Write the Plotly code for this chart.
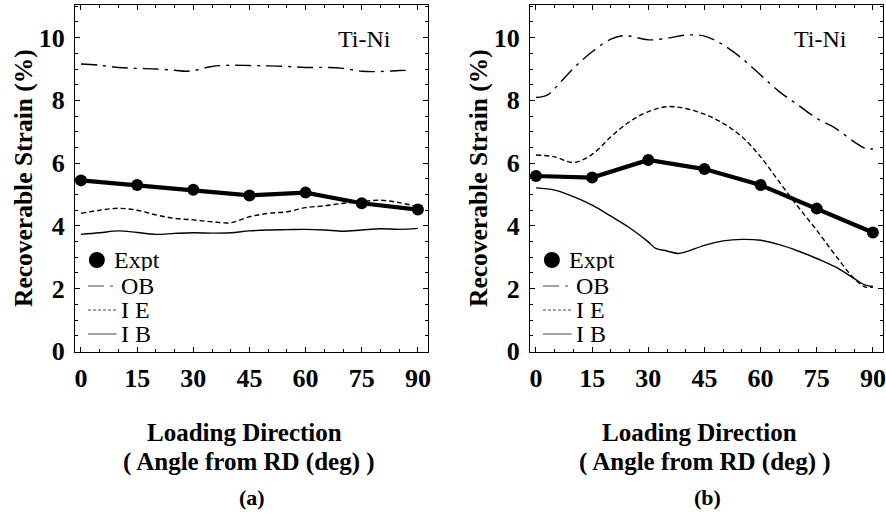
import plotly.graph_objects as go

# ---------------- data ----------------
angles_expt = [0, 15, 30, 45, 60, 75, 90]

# panel (a)
a_expt = [5.45, 5.30, 5.15, 4.97, 5.06, 4.72, 4.52]
a_ob_x = [0, 5, 10, 15, 20, 25, 28, 30, 35, 40, 45, 50, 55, 60, 65, 70, 75, 80, 85, 88]
a_ob_y = [9.16, 9.12, 9.05, 9.02, 9.00, 8.96, 8.93, 8.95, 9.08, 9.12, 9.11, 9.10, 9.08, 9.05, 9.05, 9.02, 8.93, 8.92, 8.95, 8.96]
a_ie_x = [0, 5, 10, 15, 20, 25, 30, 35, 40, 45, 50, 55, 60, 65, 70, 75, 80, 85, 90]
a_ie_y = [4.40, 4.50, 4.56, 4.50, 4.35, 4.24, 4.19, 4.13, 4.10, 4.29, 4.40, 4.45, 4.58, 4.64, 4.72, 4.77, 4.82, 4.74, 4.61]
a_ib_x = [0, 5, 10, 15, 20, 25, 30, 35, 40, 45, 50, 55, 60, 65, 70, 75, 80, 85, 90]
a_ib_y = [3.73, 3.78, 3.84, 3.79, 3.73, 3.76, 3.78, 3.77, 3.78, 3.84, 3.87, 3.88, 3.89, 3.87, 3.83, 3.87, 3.91, 3.89, 3.92]

# panel (b)
b_expt = [5.59, 5.54, 6.10, 5.81, 5.30, 4.55, 3.79]
b_ob_x = [0, 3, 5, 10, 15, 20, 23, 25, 30, 35, 40, 45, 50, 55, 60, 65, 70, 75, 80, 85, 88, 90]
b_ob_y = [8.09, 8.17, 8.38, 9.02, 9.55, 9.95, 10.06, 10.05, 9.93, 9.98, 10.08, 10.05, 9.77, 9.34, 8.81, 8.28, 7.85, 7.43, 7.11, 6.68, 6.47, 6.45]
b_ie_x = [0, 5, 10, 15, 20, 25, 30, 35, 40, 45, 50, 55, 60, 65, 70, 75, 80, 85, 88, 90]
b_ie_y = [6.26, 6.20, 6.02, 6.28, 6.84, 7.32, 7.64, 7.80, 7.74, 7.56, 7.27, 6.84, 6.20, 5.40, 4.61, 3.86, 3.06, 2.32, 2.05, 2.05]
b_ib_x = [0, 5, 10, 15, 20, 25, 30, 32, 35, 38, 40, 45, 50, 55, 60, 65, 70, 75, 80, 85, 88, 90]
b_ib_y = [5.21, 5.14, 4.93, 4.66, 4.31, 3.94, 3.49, 3.28, 3.20, 3.12, 3.17, 3.38, 3.52, 3.57, 3.54, 3.40, 3.20, 2.96, 2.69, 2.32, 2.11, 2.07]

x_ticks = [0, 15, 30, 45, 60, 75, 90]
y_ticks = [0, 2, 4, 6, 8, 10]
legend_labels = ["Expt", "OB", "I E", "I B"]
panel_labels = ["(a)", "(b)"]
alloy = "Ti-Ni"

# ---------------- style ----------------
W, H = 886, 519
SERIF = "Liberation Serif, Times New Roman, serif"
OB_DASH = "16px,6px,3px,6px"
IE_DASH = "5px,3px"

panels = [
    dict(expt=a_expt, ob=(a_ob_x, a_ob_y), ie=(a_ie_x, a_ie_y), ib=(a_ib_x, a_ib_y), xa="x", ya="y"),
    dict(expt=b_expt, ob=(b_ob_x, b_ob_y), ie=(b_ie_x, b_ie_y), ib=(b_ib_x, b_ib_y), xa="x2", ya="y2"),
]

fig = go.Figure()
for p in panels:
    fig.add_trace(go.Scatter(x=p["ob"][0], y=p["ob"][1], mode="lines", xaxis=p["xa"], yaxis=p["ya"],
                             line=dict(color="black", width=1.4, dash=OB_DASH, shape="spline", smoothing=1.0),
                             name="OB", showlegend=False))
    fig.add_trace(go.Scatter(x=p["ie"][0], y=p["ie"][1], mode="lines", xaxis=p["xa"], yaxis=p["ya"],
                             line=dict(color="black", width=1.4, dash=IE_DASH, shape="spline", smoothing=1.0),
                             name="I E", showlegend=False))
    fig.add_trace(go.Scatter(x=p["ib"][0], y=p["ib"][1], mode="lines", xaxis=p["xa"], yaxis=p["ya"],
                             line=dict(color="black", width=1.4, shape="spline", smoothing=1.0),
                             name="I B", showlegend=False))
    fig.add_trace(go.Scatter(x=angles_expt, y=p["expt"], mode="lines+markers", xaxis=p["xa"], yaxis=p["ya"],
                             line=dict(color="black", width=4.2),
                             marker=dict(color="black", size=12),
                             name="Expt", showlegend=False))

# domains (figure fractions, zero margins)
x_doms = [[75 / W, 428 / W], [530 / W, 883 / W]]
y_dom = [(H - 352) / H, (H - 5) / H]

axis_common = dict(
    showline=True, linecolor="black", linewidth=1.2, mirror="ticks",
    ticks="inside", ticklen=5, tickwidth=1, tickcolor="black",
    showgrid=False, zeroline=False, automargin=False,
    tickfont=dict(family=SERIF, size=26, color="black", weight="bold"),
)
for i, xd in enumerate(x_doms):
    sfx = "" if i == 0 else str(i + 1)
    fig.update_layout({
        f"xaxis{sfx}": dict(axis_common, domain=xd, range=[-1.6, 92.7], tickvals=x_ticks,
                            anchor=f"y{sfx}", ticklabelstandoff=3,
                            minor=dict(ticks="inside", ticklen=2.5, dtick=5, tickcolor="black", tick0=0)),
        f"yaxis{sfx}": dict(axis_common, domain=y_dom, range=[-0.02, 11.04], tickvals=y_ticks,
                            anchor=f"x{sfx}", ticklabelstandoff=4,
                            minor=dict(ticks="inside", ticklen=2.5, dtick=0.5, tickcolor="black", tick0=0)),
    })

annotations = []
shapes = []
title_font = dict(family=SERIF, size=25, color="black", weight="bold")
for i, xd in enumerate(x_doms):
    sfx = "" if i == 0 else str(i + 1)
    dx = 0 if i == 0 else 455 / W
    # y-axis title
    annotations.append(dict(text="Recoverable Strain (%)", textangle=-90, xref="paper", yref="paper",
                            x=(23 / W) + dx, y=(H - 178) / H,
                            showarrow=False, font=dict(title_font, size=25.5), xanchor="center", yanchor="middle"))
    # x-axis titles
    annotations.append(dict(text="Loading Direction", xref="paper", yref="paper",
                            x=244 / W + dx, y=(H - 432) / H, showarrow=False, font=title_font,
                            xanchor="center", yanchor="middle"))
    annotations.append(dict(text="( Angle from RD (deg) )", xref="paper", yref="paper",
                            x=249.5 / W + dx, y=(H - 462) / H, showarrow=False, font=title_font,
                            xanchor="center", yanchor="middle"))
    annotations.append(dict(text=panel_labels[i], xref="paper", yref="paper",
                            x=252 / W + dx, y=(H - 497) / H, showarrow=False,
                            font=dict(family=SERIF, size=22, color="black", weight="bold"),
                            xanchor="center", yanchor="middle"))
    # alloy label
    annotations.append(dict(text=alloy, xref=f"x{sfx} domain", yref=f"y{sfx} domain",
                            x=(365 - 75) / 353, y=(352 - 39) / 347, showarrow=False,
                            font=dict(family=SERIF, size=24, color="black"),
                            xanchor="center", yanchor="middle"))
    # legend
    leg_font = dict(family=SERIF, size=24, color="black")
    rows_y = [(352 - 260) / 347, (352 - 286) / 347, (352 - 310) / 347, (352 - 334) / 347]
    annotations.append(dict(text=legend_labels[0], xref=f"x{sfx} domain", yref=f"y{sfx} domain",
                            x=0.105, y=rows_y[0], showarrow=False, font=leg_font, height=22,
                            xanchor="left", yanchor="middle"))
    shapes.append(dict(type="circle", xref=f"x{sfx} domain", yref=f"y{sfx} domain",
                       xsizemode="pixel", ysizemode="pixel", xanchor=0.062, yanchor=rows_y[0],
                       x0=-8, x1=8, y0=-8, y1=8, fillcolor="black", line=dict(width=0)))
    dashes = [OB_DASH, "3px,2px", "solid"]
    for k in range(3):
        annotations.append(dict(text=legend_labels[k + 1], xref=f"x{sfx} domain", yref=f"y{sfx} domain",
                                x=0.124, y=rows_y[k + 1], showarrow=False, font=leg_font, height=22,
                                xanchor="left", yanchor="middle"))
        shapes.append(dict(type="line", xref=f"x{sfx} domain", yref=f"y{sfx} domain",
                           x0=0.037, x1=0.118, y0=rows_y[k + 1], y1=rows_y[k + 1],
                           line=dict(color="#444", width=1, dash=dashes[k])))

fig.update_layout(
    width=W, height=H, margin=dict(l=0, r=0, t=0, b=0),
    paper_bgcolor="white", plot_bgcolor="white",
    showlegend=False, annotations=annotations, shapes=shapes,
)

fig.write_html("out.html",
               config={"displayModeBar": False},
               post_script="document.body.style.margin='0';document.body.style.padding='0';"
                           "document.body.style.overflow='hidden';")
